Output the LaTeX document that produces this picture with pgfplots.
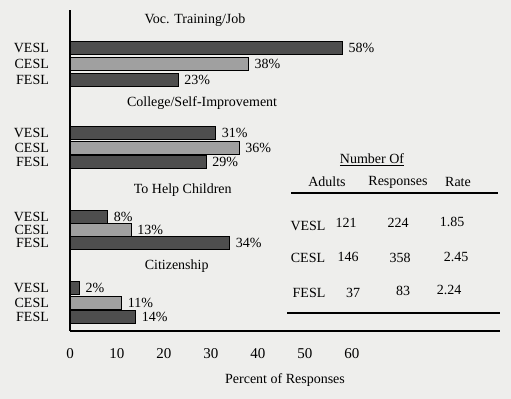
\documentclass[border=0pt]{standalone}
\usepackage{pgfplots}
\pgfplotsset{compat=1.18}
\usepackage{fontspec}
\setmainfont{Liberation Serif}
\definecolor{bg}{RGB}{238,238,236}
\definecolor{darkbar}{RGB}{78,78,78}
\definecolor{lightbar}{RGB}{160,160,160}
\begin{document}
\fontsize{14bp}{16bp}\selectfont
\begin{tikzpicture}
\path[fill=bg, use as bounding box] (0bp,0bp) rectangle (511bp,-399bp);
\begin{axis}[
  at={(70bp,-331bp)}, anchor=south west,
  scale only axis, width=430bp, height=321bp,
  xbar, bar width=13, bar shift=0pt,
  xmin=0, xmax=91.5, ymin=10, ymax=331, y dir=reverse,
  axis x line*=bottom, axis y line*=left,
  axis line style={line width=1.6bp, -},
  xtick={0,10,20,30,40,50,60},
  ytick={48,64,80,133,148,162,217,230,243,288,303,317},
  yticklabels={VESL,CESL,FESL,VESL,CESL,FESL,VESL,CESL,FESL,VESL,CESL,FESL},
  tick style={draw=none},
  /pgf/number format/assume math mode=true,
  ticklabel style={font=\fontsize{14bp}{16bp}\selectfont},
  xticklabel style={yshift=-13bp, font=\fontsize{15bp}{17bp}\selectfont},
  yticklabel style={anchor=east, xshift=-12bp},
  xlabel={Percent of Responses},
  xlabel style={font=\fontsize{14bp}{16bp}\selectfont, yshift=-5bp},
  point meta=x,
  nodes near coords={\pgfmathprintnumber{\pgfplotspointmeta}\%},
  every node near coord/.append style={anchor=west, font=\fontsize{14bp}{16bp}\selectfont, xshift=1bp},
  clip=false,
]
\addplot[draw=black, line width=1bp, fill=darkbar] coordinates {(58,48) (31,133) (8,217) (2,288)};
\addplot[draw=black, line width=1bp, fill=lightbar] coordinates {(38,64) (36,148) (13,230) (11,303)};
\addplot[draw=black, line width=1bp, fill=darkbar] coordinates {(23,80) (29,162) (34,243) (14,317)};
\node at (axis cs:26.6,20) {Voc. Training/Job};
\node at (axis cs:28.1,103) {College/Self-Improvement};
\node at (axis cs:24.0,190) {To Help Children};
\node at (axis cs:22.7,266) {Citizenship};
\end{axis}
% table
\begin{scope}[x=1bp,y=-1bp]
\node at (372,160) {\underline{Number Of}};
\node at (327,182) {Adults};
\node at (398,182) {Responses};
\node at (458,182) {Rate};
\draw[line width=1.4bp] (291,193) -- (498,193);
\node at (308,226) {VESL}; \node at (346,223) {121}; \node at (398,223) {224}; \node at (452,222) {1.85};
\node at (308,258) {CESL}; \node at (348,257) {146}; \node at (400,258) {358}; \node at (456,257) {2.45};
\node at (309,293) {FESL}; \node at (353,293) {37};  \node at (403,291) {83};  \node at (449,290) {2.24};
\draw[line width=1.4bp] (287,313) -- (500,313);
\end{scope}
\end{tikzpicture}
\end{document}
